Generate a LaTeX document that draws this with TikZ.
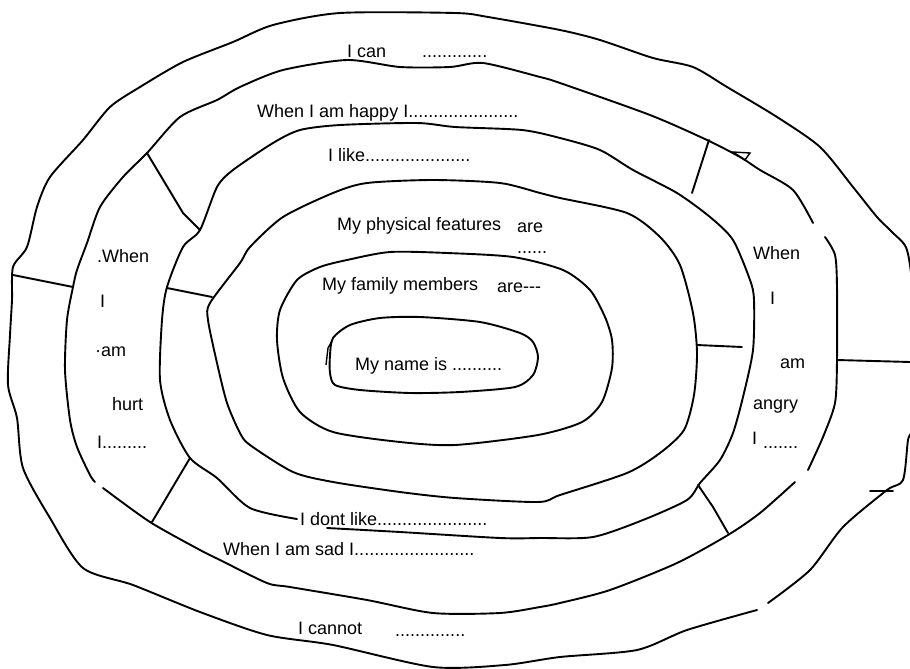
\documentclass[tikz,border=0pt]{standalone}
\usepackage{fontspec}
\setmainfont{Liberation Sans}
\begin{document}
\begin{tikzpicture}[x=1pt,y=-1pt,
  ring/.style={line width=1.9pt, line join=round, line cap=round},
  sep/.style={line width=1.9pt, line cap=round},
  lbl/.style={anchor=base west, inner sep=0pt, font=\fontsize{18}{20}\selectfont}]
\useasboundingbox (0,0) rectangle (910,669);
\clip (0,0) rectangle (910,669);
\fill[white] (0,0) rectangle (910,669);

% outer ring
\draw[ring] plot[smooth, tension=0.45] coordinates {(757,610) (687,630) (637,650) (560,657) (505,665) (433,667) (333,645) (267,635) (200,612) (133,585) (83,568) (50,518) (23,468) (17,418) (8,385) (10,335) (12,300) (13,267) (27,247) (37,207) (50,177) (83,140) (110,107) (140,87) (183,62) (233,42) (273,25) (340,13) (455,13) (488,17) (560,30) (600,40) (653,58) (693,67) (727,87) (777,117) (820,147) (853,187) (877,217) (893,233) (907,250) (913,300) (913,420) (908,440) (903,480) (887,490) (843,527) (810,570) (768,603)};

% ring 2
\draw[ring] plot[smooth, tension=0.45] coordinates {(95,482) (90,475) (77,447) (70,420) (65,370) (67,320) (73,287) (77,270) (87,243) (100,207) (123,177) (147,153) (180,117) (217,100) (240,87) (283,70) (347,60) (400,67) (450,67) (483,63) (540,77) (560,83) (650,115) (707,140) (740,157) (760,170) (793,190) (813,223)};
\draw[ring] plot[smooth, tension=0.45] coordinates {(825,237) (835,255) (837,287) (837,360) (835,403) (823,437) (808,470)};
\draw[ring] plot[smooth, tension=0.45] coordinates {(795,482) (760,513) (728,535) (677,563) (610,590) (560,603) (540,607) (500,613) (433,613) (367,600) (290,587) (267,583) (220,560) (200,550) (150,522) (103,488)};

% ring 3
\draw[ring] plot[smooth, tension=0.45] coordinates {(297,519) (250,508) (217,478) (190,458) (170,420) (160,380) (162,320) (167,287) (183,247) (200,230) (217,187) (233,170) (273,143) (300,130) (340,125) (417,123) (455,127) (522,130) (560,138) (600,150) (633,170) (677,193) (710,217) (733,240) (750,280) (754,300) (753,350) (743,397) (733,433) (720,460) (700,483) (687,500) (643,520) (593,537) (540,538) (500,538) (400,532) (327,528)};

% ring 4
\draw[ring] plot[smooth cycle, tension=0.45] coordinates {(250,247) (283,217) (333,193) (367,183) (433,180) (500,183) (540,193) (560,198) (627,213) (660,237) (680,265) (693,313) (697,353) (694,395) (684,430) (660,453) (627,473) (560,495) (538,502) (455,498) (400,492) (333,482) (293,472) (250,445) (240,433) (227,403) (217,363) (208,320) (210,303) (240,263)};

% ring 5
\draw[ring] plot[smooth cycle, tension=0.45] coordinates {(280,310) (297,280) (320,267) (347,260) (390,252) (447,253) (513,257) (563,270) (590,290) (605,317) (612,340) (612,368) (602,402) (582,422) (538,435) (455,445) (400,442) (333,432) (300,412) (283,378) (277,340)};

% inner loop
\draw[ring] plot[smooth cycle, tension=0.45] coordinates {(330,355) (333,338) (350,325) (380,318) (420,317) (480,322) (520,333) (533,342) (538,357) (533,375) (515,387) (460,392) (410,393) (360,390) (335,385) (330,373)};
\draw[line width=1.4pt] (326,365) -- (328,348) -- (332,341);

% separators
\draw[sep] (13,275) -- (73,287);
\draw[sep] (147,153) -- (183,213) -- (200,230);
\draw[sep] (167,288) -- (212,297);
\draw[sep] (190,458) -- (152,522);
\draw[sep] (709,140) -- (692,193);
\draw[sep] (697,345) -- (742,347);
\draw[sep] (698,485) -- (713,507) -- (728,533);
\draw[sep] (837,360) -- (910,362);
\draw[sep] (870,491) -- (893,491);
\draw[line width=1.4pt] (733,152) -- (750,153) -- (745,160) -- cycle;

% texts
\node[lbl] (can) at (347,58) {I can};
\node[lbl] (candots) at (422,58) {.............};
\node[lbl] (happy) at (257,117) {When I am happy I......................};
\node[lbl] (like) at (328,161) {I like.....................};
\node[lbl] (phys) at (337,230) {My physical features};
\node[lbl] (physare) at (517,232) {are};
\node[lbl] (physdots) at (517,253) {......};
\node[lbl] (fam) at (322,290) {My family members};
\node[lbl] (famare) at (497,292) {are-{}-{}-};
\node[lbl] (name) at (355,370) {My name is ..........};

\node[lbl] (lw) at (97,262) {.When};
\node[lbl] (li) at (100,307) {I};
\node[lbl] (lam) at (95,356) {{\textperiodcentered}am};
\node[lbl] (lhurt) at (112,410) {hurt};
\node[lbl] (ldots) at (97,448) {I.........};

\node[lbl] (rw) at (753,259) {When};
\node[lbl] (ri) at (770,304) {I};
\node[lbl] (ram) at (780,368) {am};
\node[lbl] (rangry) at (753,409) {angry};
\node[lbl] (rI) at (752,444) {I};
\node[lbl] (rdots) at (763,448) {.......};

\node[lbl] (dont) at (300,525) {I dont like......................};
\node[lbl] (sad) at (223,555) {When I am sad I........................};
\node[lbl] (cannot) at (298,634) {I cannot};
\node[lbl] (cannotdots) at (395,636) {..............};
\end{tikzpicture}
\end{document}
